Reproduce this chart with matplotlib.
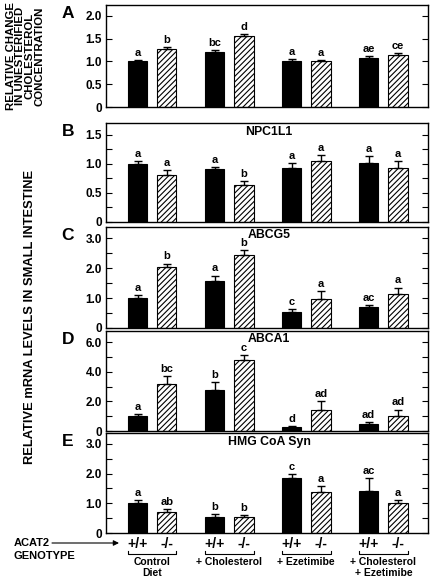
#!/usr/bin/env python3
import matplotlib
matplotlib.use("Agg")
import matplotlib.pyplot as plt
import numpy as np
from matplotlib.ticker import MultipleLocator, FuncFormatter

plt.rcParams["font.family"] = ["Liberation Sans", "DejaVu Sans"]
plt.rcParams["font.weight"] = "bold"
plt.rcParams["hatch.linewidth"] = 0.8

groups = ["Control\nDiet", "+ Cholesterol", "+ Ezetimibe", "+ Cholesterol\n+ Ezetimibe"]
genotypes = ["+/+", "-/-"]

# values ordered: (+/+, -/-) for each diet group
chol_mean = [1.00, 1.27, 1.21, 1.57, 1.02, 1.00, 1.08, 1.15]
chol_err = [0.03, 0.04, 0.04, 0.04, 0.03, 0.04, 0.04, 0.04]
chol_sig = ["a", "b", "bc", "d", "a", "a", "ae", "ce"]

npc_mean = [1.00, 0.80, 0.91, 0.63, 0.93, 1.05, 1.01, 0.93]
npc_err = [0.05, 0.10, 0.04, 0.07, 0.08, 0.10, 0.12, 0.11]
npc_sig = ["a", "a", "a", "b", "a", "a", "a", "a"]

abcg5_mean = [1.00, 2.05, 1.57, 2.42, 0.55, 0.98, 0.70, 1.15]
abcg5_err = [0.10, 0.10, 0.18, 0.17, 0.07, 0.25, 0.06, 0.20]
abcg5_sig = ["a", "b", "a", "b", "c", "a", "ac", "a"]

abca1_mean = [1.00, 3.20, 2.80, 4.80, 0.30, 1.40, 0.50, 1.00]
abca1_err = [0.15, 0.50, 0.50, 0.35, 0.05, 0.65, 0.10, 0.45]
abca1_sig = ["a", "bc", "b", "c", "d", "ad", "ad", "ad"]

hmg_mean = [1.00, 0.70, 0.55, 0.55, 1.87, 1.38, 1.40, 1.02]
hmg_err = [0.10, 0.12, 0.08, 0.07, 0.12, 0.20, 0.45, 0.10]
hmg_sig = ["a", "ab", "b", "b", "c", "a", "ac", "a"]

panels = [
    ("A", "", chol_mean, chol_err, chol_sig, 2.24, 0.5, 0.5),
    ("B", "NPC1L1", npc_mean, npc_err, npc_sig, 1.7, 0.5, 0.25),
    ("C", "ABCG5", abcg5_mean, abcg5_err, abcg5_sig, 3.37, 1.0, 0.5),
    ("D", "ABCA1", abca1_mean, abca1_err, abca1_sig, 6.75, 2.0, 1.0),
    ("E", "HMG CoA Syn", hmg_mean, hmg_err, hmg_sig, 3.37, 1.0, 0.5),
]

# axes boxes in pixels (top, bottom) of a 432x579 figure
boxes = [(5, 107), (123, 222), (227, 328), (331, 431), (433, 533)]
W, H = 432, 579
left, right = 106, 428

fig = plt.figure(figsize=(4.32, 5.79), dpi=100)

x = np.arange(len(groups))
off = 0.19
bw = 0.25
xpos = np.ravel(np.column_stack([x - off, x + off]))


def fmt(v, pos):
    return "0" if abs(v) < 1e-9 else f"{v:.1f}"


axes = []
for (letter, title, mean, err, sig, ymax, major, minor), (top, bot) in zip(panels, boxes):
    ax = fig.add_axes([left / W, (H - bot) / H, (right - left) / W, (bot - top) / H])
    axes.append(ax)
    for i in range(len(mean)):
        if i % 2 == 0:
            ax.bar(xpos[i], mean[i], bw, color="black", edgecolor="black", linewidth=0.8)
        else:
            ax.bar(xpos[i], mean[i], bw, color="white", edgecolor="black",
                   hatch="//////", linewidth=0.8)
    ax.errorbar(xpos, mean, yerr=[np.zeros(len(mean)), err], fmt="none",
                ecolor="black", elinewidth=1.0, capsize=3, capthick=1.0)
    for xi, m, e, s in zip(xpos, mean, err, sig):
        ax.annotate(s, (xi, m + e), xytext=(0, 1.5), textcoords="offset points",
                    ha="center", va="bottom", fontsize=8, fontweight="bold")
    ax.set_xlim(-0.6, 3.58)
    ax.set_ylim(0, ymax)
    ax.yaxis.set_major_locator(MultipleLocator(major))
    ax.yaxis.set_minor_locator(MultipleLocator(minor))
    ax.yaxis.set_major_formatter(FuncFormatter(fmt))
    ax.set_xticks([])
    ax.tick_params(axis="y", which="both", direction="in", right=True,
                   labelsize=8.5, length=4, width=0.8, pad=3)
    for t in ax.get_yticklabels():
        t.set_fontweight("bold")
    for sp in ax.spines.values():
        sp.set_linewidth(1.0)
    if title:
        ax.text((269 - left) / (right - left), 1 - 8.5 / (bot - top), title,
                transform=ax.transAxes, ha="center", va="center",
                fontsize=8.8, fontweight="bold")
    fig.text(68 / W, 1 - (top + 8) / H, letter, ha="center", va="center",
             fontsize=12.5, fontweight="bold")

fig.text(25 / W, 1 - 56 / H,
         "RELATIVE CHANGE\nIN UNESTERIFIED\nCHOLESTEROL\nCONCENTRATION",
         rotation=90, ha="center", va="center", fontsize=8.2, fontweight="bold",
         linespacing=0.92)
fig.text(30 / W, 1 - 317 / H, "RELATIVE mRNA LEVELS IN SMALL INTESTINE",
         rotation=90, ha="center", va="center", fontsize=9.3, fontweight="bold")

# genotype and diet labels under the bottom panel
axE = axes[-1]
tr = axE.get_xaxis_transform()
for i, xi in enumerate(xpos):
    axE.text(xi, -0.11, genotypes[i % 2], transform=tr, ha="center", va="center",
             fontsize=10, fontweight="bold", clip_on=False)
for g, gx in enumerate(x):
    x0 = gx - off - bw / 2
    x1 = gx + off + bw / 2
    axE.plot([x0, x0, x1, x1], [-0.18, -0.21, -0.21, -0.18], transform=tr,
             color="black", linewidth=0.8, clip_on=False)
    axE.text(gx, -0.24, groups[g], transform=tr, ha="center", va="top",
             fontsize=7.5, fontweight="bold", linespacing=1.15, clip_on=False)

fig.text(14 / W, 1 - 543 / H, "ACAT2", ha="left", va="center", fontsize=8,
         fontweight="bold")
fig.text(14 / W, 1 - 556 / H, "GENOTYPE", ha="left", va="center", fontsize=8,
         fontweight="bold")
fig.add_artist(matplotlib.patches.FancyArrowPatch(
    (52 / W, 1 - 543 / H), (119 / W, 1 - 543 / H), transform=fig.transFigure,
    arrowstyle="-|>", mutation_scale=8, color="black", linewidth=0.8,
    shrinkA=0, shrinkB=0))

fig.savefig("out.png", dpi=100)
